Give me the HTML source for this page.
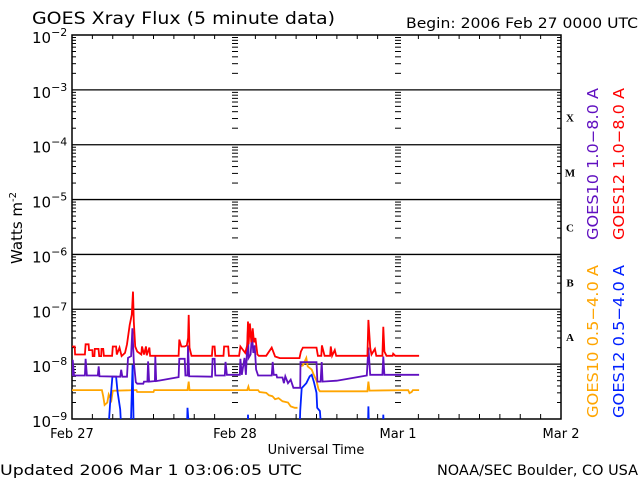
<!DOCTYPE html>
<html><head><meta charset="utf-8"><style>
body{margin:0;background:#fff;}
svg{display:block;font-family:"DejaVu Sans","Liberation Sans",sans-serif;}
</style></head><body>
<svg id="chart" width="640" height="480" viewBox="0 0 640 480" xmlns="http://www.w3.org/2000/svg">
<rect x="0" y="0" width="640" height="480" fill="#fff"/>
<text x="32" y="24" font-size="17" textLength="303" lengthAdjust="spacingAndGlyphs">GOES Xray Flux (5 minute data)</text>
<text x="406" y="28" font-size="14" textLength="232" lengthAdjust="spacingAndGlyphs">Begin:  2006 Feb 27 0000 UTC</text>
<text transform="translate(22,228) rotate(-90)" text-anchor="middle" font-size="15">Watts m<tspan dy="-6" font-size="10">-2</tspan></text>
<text x="316" y="454" text-anchor="middle" font-size="13">Universal Time</text>
<text x="0" y="475" font-size="14" textLength="302" lengthAdjust="spacingAndGlyphs">Updated 2006 Mar  1 03:06:05 UTC</text>
<text x="437" y="475" font-size="14" textLength="201" lengthAdjust="spacingAndGlyphs">NOAA/SEC Boulder, CO USA</text>
<text transform="translate(598,240) rotate(-90)" font-size="15" fill="#6010c0" textLength="152" lengthAdjust="spacingAndGlyphs">GOES10 1.0−8.0 A</text>
<text transform="translate(624,240) rotate(-90)" font-size="15" fill="#ff0000" textLength="152" lengthAdjust="spacingAndGlyphs">GOES12 1.0−8.0 A</text>
<text transform="translate(598,418) rotate(-90)" font-size="15" fill="#ffa500" textLength="153" lengthAdjust="spacingAndGlyphs">GOES10 0.5−4.0 A</text>
<text transform="translate(624,418) rotate(-90)" font-size="15" fill="#0020ff" textLength="153" lengthAdjust="spacingAndGlyphs">GOES12 0.5−4.0 A</text>
<g id="axes"></g>
<g id="series"></g>
</svg>
<script>
const dayLabels = ["Feb 27","Feb 28","Mar 1","Mar 2"];
const decadeExps = [-2,-3,-4,-5,-6,-7,-8,-9];
const classLetters = ["X","M","C","B","A"];
const classExps = [-4,-5,-6,-7,-8];

const redT = [0,0.4,0.45,1.9,2.0,2.45,2.5,3.0,3.05,3.3,3.35,3.9,4.0,4.3,4.35,4.6,4.7,5.9,6.0,6.5,6.6,7.0,7.3,7.8,8.1,8.5,8.8,8.98,9.1,9.3,9.6,10.2,10.3,10.6,10.9,11.0,11.4,11.5,15.7,15.8,16.1,16.6,16.9,17.1,17.18,17.3,17.6,20.6,20.7,21.0,21.1,22.3,22.4,23.0,23.1,24.6,24.8,25.5,25.8,25.91,26.0,26.2,26.4,26.6,26.8,27.0,27.3,27.5,28.6,29.4,29.9,30.6,33.5,33.7,34.0,36.0,36.2,36.7,36.8,37.2,38.0,38.1,38.3,38.7,38.9,43.5,43.64,43.9,44.1,44.6,44.8,45.7,45.84,46.0,46.3,47.2,47.3,47.6,51.1];
const redV = [2.1e-8,2.1e-8,1.5e-8,1.5e-8,2.3e-8,2.3e-8,1.8e-8,1.8e-8,1.4e-8,1.4e-8,1.9e-8,1.9e-8,1.4e-8,1.4e-8,1.9e-8,1.9e-8,1.42e-8,1.42e-8,2.1e-8,2.1e-8,1.5e-8,2.0e-8,1.4e-8,1.6e-8,2.3e-8,5.2e-8,8e-8,2.1e-7,6e-8,2.1e-8,1.7e-8,1.5e-8,2.1e-8,1.5e-8,2.1e-8,1.45e-8,2.0e-8,1.42e-8,1.42e-8,2.8e-8,2.1e-8,2.1e-8,2.2e-8,3e-8,7.9e-8,2.0e-8,1.42e-8,1.42e-8,2.1e-8,2.1e-8,1.42e-8,1.42e-8,2.1e-8,2.1e-8,1.42e-8,1.42e-8,2.1e-8,1.6e-8,2.2e-8,6e-8,2.3e-8,5.5e-8,2.5e-8,4.5e-8,2.5e-8,3e-8,1.5e-8,1.42e-8,1.42e-8,2.0e-8,1.38e-8,1.29e-8,1.29e-8,1.7e-8,2.0e-8,2.0e-8,1.42e-8,1.42e-8,2.2e-8,1.42e-8,1.42e-8,2.1e-8,1.42e-8,1.8e-8,1.42e-8,1.42e-8,6.4e-8,2.0e-8,1.5e-8,1.9e-8,1.42e-8,1.42e-8,4.8e-8,1.7e-8,1.42e-8,1.42e-8,1.55e-8,1.42e-8,1.42e-8];

const purpleT = [0,0.1,0.3,1.9,2.0,2.2,3.8,3.93,4.05,7.1,7.25,7.4,8.1,8.25,8.7,8.9,9.1,9.4,9.6,10.5,10.6,11.1,11.2,11.35,12.2,12.27,12.4,15.7,15.8,16.6,16.7,17.0,17.08,17.25,20.6,20.7,21.0,21.1,22.5,22.6,22.8,24.7,24.8,25.0,25.4,25.6,25.91,26.0,26.3,26.5,26.7,26.9,27.1,27.4,29.4,29.55,29.7,30.1,30.2,31.0,31.2,31.4,31.8,32.2,32.6,32.85,33.6,33.65,36.0,36.13,36.6,36.76,36.9,38.97,43.4,43.64,43.9,45.7,45.84,46.0,51.1];
const purpleV = [6e-9,1.2e-8,6.2e-9,6.2e-9,1.25e-8,6.2e-9,6.2e-9,9.1e-9,6e-9,5.9e-9,7.9e-9,5.9e-9,5.9e-9,1.3e-8,1.4e-8,4.5e-8,1.1e-8,4.7e-9,4.4e-9,4.4e-9,4.8e-9,4.8e-9,1.12e-8,4.8e-9,4.9e-9,1.38e-8,4.9e-9,5.8e-9,1.25e-8,1.25e-8,6.2e-9,6.2e-9,2.2e-8,6e-9,5.9e-9,1.25e-8,1.25e-8,6.2e-9,6.2e-9,1.1e-8,6.4e-9,6.4e-9,1.25e-8,6.4e-9,1.3e-8,6.4e-9,4.5e-8,1.3e-8,1.5e-8,3.5e-8,1.6e-8,2.2e-8,8e-9,6.2e-9,6.2e-9,1.1e-8,6.4e-9,6.4e-9,5.7e-9,5.7e-9,4.5e-9,6e-9,4.5e-9,5.2e-9,3.7e-9,3.7e-9,3.7e-9,1.09e-8,1.09e-8,4.8e-9,4.8e-9,1.09e-8,4.8e-9,5.0e-9,6.2e-9,2e-8,6.4e-9,6.4e-9,1.38e-8,6.4e-9,6.4e-9];

const orangeT = [0,4.4,4.6,4.8,5.2,5.4,5.8,6.0,9.5,9.6,12.0,12.1,17.0,17.18,17.3,25.8,25.97,26.1,27.4,27.6,28.6,29.0,29.5,29.9,30.4,31.0,31.8,32.2,32.8,33.2,null,33.57,34.0,34.5,34.7,35.3,35.6,36.0,36.3,36.5,43.5,43.64,43.8,49.5,49.7,50.0,50.2,51.1];
const orangeV = [3.37e-9,3.37e-9,2.6e-9,1.8e-9,2.0e-9,2.8e-9,2.2e-9,3.28e-9,3.37e-9,3.1e-9,3.1e-9,3.37e-9,3.37e-9,4.8e-9,3.37e-9,3.37e-9,3.9e-9,3.37e-9,3.37e-9,3.1e-9,3.0e-9,2.7e-9,2.6e-9,2.3e-9,2.4e-9,2.1e-9,2.0e-9,1.7e-9,1.6e-9,1.6e-9,null,9.1e-9,9.5e-9,1.3e-8,9.1e-9,8e-9,6.4e-9,5e-9,3.5e-9,3.2e-9,3.2e-9,4.8e-9,3.3e-9,3.37e-9,2.97e-9,3.1e-9,3.37e-9,3.37e-9];

const blueT = [5.3,5.6,5.95,6.5,6.7,7.1,7.3,null,8.5,8.7,8.93,9.1,null,16.9,17.0,17.3,null,25.85,25.91,26.0,null,33.5,33.6,33.82,34.5,35.0,35.3,35.6,36.0,36.1,36.5,36.76,null,43.55,43.64,43.75,null,45.75,45.84,45.95];
const blueV = [5e-10,1.8e-9,5.9e-9,5.9e-9,3.2e-9,1.5e-9,5e-10,null,5e-10,1.1e-9,9.7e-9,5e-10,null,5e-10,1.6e-9,5e-10,null,5e-10,1.2e-9,5e-10,null,5e-10,1.4e-9,3.66e-9,4.5e-9,6.0e-9,6.4e-9,4.8e-9,3.0e-9,1.6e-9,1.4e-9,5e-10,null,5e-10,1.7e-9,5e-10,null,5e-10,1.2e-9,5e-10];

const NS="http://www.w3.org/2000/svg";
const L=72,R=561,T=35,B=419,DAY=(R-L)/3;
const xOf=h=>L+h/24*DAY;
const yOf=v=>T+(-2-Math.log10(v))*(B-T)/7;
const axes=document.getElementById('axes');
const ser=document.getElementById('series');
function mk(tag,attrs,parent){const e=document.createElementNS(NS,tag);for(const k in attrs)e.setAttribute(k,attrs[k]);parent.appendChild(e);return e;}

const defs=mk('defs',{},axes);
const cp=mk('clipPath',{id:'plotclip'},defs);
mk('rect',{x:L,y:T,width:R-L,height:B-T},cp);

decadeExps.forEach(e=>{
  const y=yOf(Math.pow(10,e));
  if(e!==-2&&e!==-9){const ln=mk('line',{x1:L,x2:R,y1:y,y2:y,stroke:'#000','stroke-width':1.3},axes);
  
  }
  const t=mk('text',{x:32,y:y+8,'font-size':15},axes);
  
  
  t.textContent='10';
  const s=mk('tspan',{dy:-7,'font-size':11},t);s.textContent='−'+(-e);
});
const tickCols=[[L,1],[R,-1],[xOf(24),0],[xOf(48),0]];
for(let e=-9;e<-2;e++){
  for(let m=2;m<10;m++){
    const y=yOf(m*Math.pow(10,e)); const len=4;
    tickCols.forEach(([x,d])=>{
      let x1,x2; if(d===0){x1=x-3;x2=x+3;}else{x1=x;x2=x+d*len;}
      mk('line',{x1:x1,x2:x2,y1:y,y2:y,stroke:'#000','stroke-width':1},axes);
    });
  }
}
for(let h=3;h<72;h+=3){
  if(h%24===0)continue;
  const x=xOf(h);
  mk('line',{x1:x,x2:x,y1:B,y2:B-5,stroke:'#000','stroke-width':1},axes);
  mk('line',{x1:x,x2:x,y1:T,y2:T+4,stroke:'#000','stroke-width':1},axes);
}
dayLabels.forEach((d,i)=>{
  const x=xOf(i*24);
  const t=mk('text',{x:x,y:438,'text-anchor':'middle','font-size':13},axes);
  
  
  t.textContent=d;
});
classLetters.forEach((c,i)=>{
  const y=yOf(Math.pow(10,classExps[i]))-27+4;
  const t=mk('text',{x:570,y:y,'text-anchor':'middle','font-size':11,'font-weight':'bold','font-family':'Liberation Serif, serif'},axes);
  
  
  t.textContent=c;
});
const frame=mk('rect',{x:L,y:T,width:R-L,height:B-T,fill:'none',stroke:'#000','stroke-width':1.5},axes);



function drawSeries(ts,vs,color,name){
  let d='',pen=false;
  for(let i=0;i<ts.length;i++){
    if(ts[i]===null||vs[i]===null){pen=false;continue;}
    d+=(pen?'L':'M')+xOf(ts[i]).toFixed(1)+' '+yOf(vs[i]).toFixed(1)+' ';pen=true;
  }
  const p=mk('path',{d:d,fill:'none',stroke:color,'stroke-width':1.8,'clip-path':'url(#plotclip)','stroke-linejoin':'miter'},ser);
  
  
}
drawSeries(orangeT,orangeV,'#ffa500','series-goes10-short');
drawSeries(blueT,blueV,'#0020ff','series-goes12-short');
drawSeries(purpleT,purpleV,'#6010c0','series-goes10-long');
drawSeries(redT,redV,'#ff0000','series-goes12-long');
</script>
</body></html>
